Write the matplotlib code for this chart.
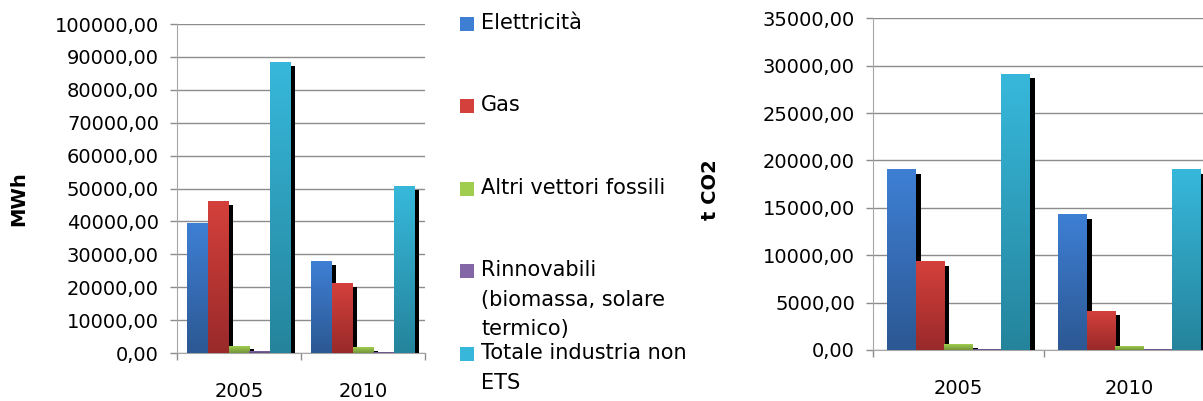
import numpy as np
import matplotlib
matplotlib.use("Agg")
import matplotlib.pyplot as plt
from matplotlib.patches import Rectangle
from matplotlib.ticker import FuncFormatter, FixedLocator
from matplotlib.transforms import ScaledTranslation

years = ["2005", "2010"]
series = ["Elettricità", "Gas", "Altri vettori fossili",
          "Rinnovabili\n(biomassa, solare\ntermico)", "Totale industria non\nETS"]
mwh = [
    [39500, 27800],   # Elettricità
    [46000, 21000],   # Gas
    [2100, 1600],     # Altri vettori fossili
    [500, 300],       # Rinnovabili
    [88200, 50500],   # Totale industria non ETS
]
tco2 = [
    [19000, 14250],
    [9300, 4100],
    [620, 420],
    [40, 20],
    [29100, 19000],
]

# gradient colours (top, bottom) per series
colors = [
    ("#3e7fd4", "#2c5893"),
    ("#d4403b", "#992a2a"),
    ("#a0cd4e", "#74953a"),
    ("#8266a6", "#5c4879"),
    ("#37b8db", "#25849c"),
]
GRID = "#8c8c8c"

plt.rcParams["font.family"] = ["DejaVu Sans"]
fig = plt.figure(figsize=(12.03, 4.01), dpi=100)


def fmt(v, _):
    return f"{v:.2f}".replace(".", ",")


def gradient(c_top, c_bot, n=64):
    top = np.array(matplotlib.colors.to_rgb(c_top))
    bot = np.array(matplotlib.colors.to_rgb(c_bot))
    t = np.linspace(0, 1, n)[:, None]
    return (top * (1 - t) + bot * t)[:, None, :]


def draw_chart(ax, data, ymax, ystep, ylabel, shadow, label_xy):
    x = np.arange(len(years))
    w = 1 / 6
    for i, vals in enumerate(data):
        pos = x - 2.5 * w + (i + 0.5) * w
        sh = ax.bar(pos, vals, w, color="black", zorder=2 + 2 * i)
        for r in sh:
            r.set_transform(ax.transData + ScaledTranslation(shadow[0], -shadow[1], fig.dpi_scale_trans))
        bars = ax.bar(pos, vals, w, facecolor="none", edgecolor="none", zorder=3 + 2 * i)
        for r in bars:
            ax.imshow(gradient(*colors[i]), extent=[r.get_x(), r.get_x() + r.get_width(), 0, r.get_height()],
                      aspect="auto", zorder=3 + 2 * i, interpolation="bilinear")
    ax.set_xlim(-0.5, len(years) - 0.5)
    ax.set_ylim(0, ymax)
    ax.set_yticks(np.arange(0, ymax + 1, ystep))
    ax.yaxis.set_major_formatter(FuncFormatter(fmt))
    ax.set_xticks(x)
    ax.set_xticklabels(years)
    ax.xaxis.set_minor_locator(FixedLocator(np.arange(-0.5, len(years), 1.0)))
    ax.tick_params(axis="x", which="major", length=0, pad=21, labelsize=14)
    ax.tick_params(axis="x", which="minor", length=5, width=1, color=GRID)
    ax.tick_params(axis="y", length=5, width=1, color=GRID, pad=8, labelsize=14)
    ax.grid(axis="y", color=GRID, lw=1)
    ax.set_axisbelow(True)
    for s in ("top", "right"):
        ax.spines[s].set_visible(False)
    for s in ("left", "bottom"):
        ax.spines[s].set_color("#a6a6a6")
    ax.set_ylabel(ylabel, fontsize=14, fontweight="bold")
    ax.yaxis.set_label_coords(*label_xy)


ax1 = fig.add_axes([0.1471, 0.1197, 0.2062, 0.8204])
draw_chart(ax1, mwh, 100000, 10000, "MWh", (0.045, 0.03), (-0.60, 0.468))

ax2 = fig.add_axes([0.7257, 0.1272, 0.2843, 0.8272])
draw_chart(ax2, tco2, 35000, 5000, "t CO2", (0.05, 0.04), (-0.448, 0.482))

# legend between the two charts
leg_y = [24, 106, 189, 271, 354]
for i, name in enumerate(series):
    yc = 1 - leg_y[i] / 401
    fig.add_artist(Rectangle((460 / 1203, yc - 7 / 401), 14 / 1203, 14 / 401,
                             transform=fig.transFigure, facecolor=colors[i][0], edgecolor="none"))
    fig.text(481 / 1203, yc + 11 / 401, name, fontsize=15, va="top", ha="left", linespacing=1.6)

fig.savefig("out.png", dpi=100)
